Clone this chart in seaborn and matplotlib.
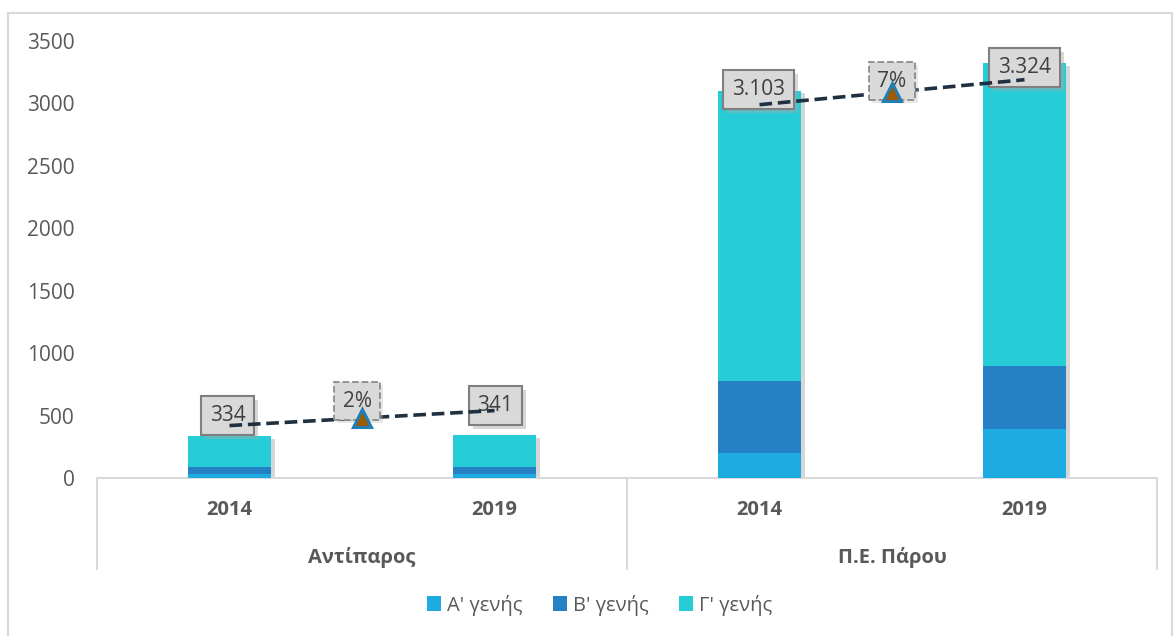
import numpy as np
import pandas as pd
import matplotlib
matplotlib.use("Agg")
import matplotlib.pyplot as plt
import matplotlib.patheffects as pe
from matplotlib.patches import Patch, Rectangle
import seaborn as sns

# ---- data ----
groups = ["Αντίπαρος", "Αντίπαρος", "Π.Ε. Πάρου", "Π.Ε. Πάρου"]
years = ["2014", "2019", "2014", "2019"]
gen_a = [35, 35, 200, 390]
gen_b = [50, 50, 575, 510]
gen_c = [249, 256, 2328, 2424]
totals = [334, 341, 3103, 3324]
total_labels = ["334", "341", "3.103", "3.324"]
trend_start = [420, 2990]
trend_end = [540, 3190]
pct_labels = ["2%", "7%"]
series_names = ["Α' γενής", "Β' γενής", "Γ' γενής"]
colors = ["#1DABE2", "#2581C4", "#26CDD7"]

keys = [f"{g} {y}" for g, y in zip(groups, years)]
df = pd.DataFrame({
    "key": keys,
    "a": gen_a,
    "ab": np.array(gen_a) + np.array(gen_b),
    "abc": np.array(gen_a) + np.array(gen_b) + np.array(gen_c),
})

sns.set_theme(style="white")
plt.rcParams["font.family"] = ["Open Sans", "DejaVu Sans"]
txt_color = "#595959"

fig = plt.figure(figsize=(11.74, 6.36), dpi=100)
W, H = 1174, 636
ax = fig.add_axes([97 / W, 1 - 478 / H, (1157 - 97) / W, (478 - 41) / H])

bw = 0.313
sns.barplot(data=df, x="key", y="abc", order=keys, color=colors[2], width=bw,
            saturation=1, ax=ax, errorbar=None, zorder=2, linewidth=0)
n0 = len(ax.patches)
for p in ax.patches[:n0]:
    p.set_path_effects([pe.SimplePatchShadow(offset=(3, -2), shadow_rgbFace="#000000", alpha=0.16), pe.Normal()])
sns.barplot(data=df, x="key", y="ab", order=keys, color=colors[1], width=bw,
            saturation=1, ax=ax, errorbar=None, zorder=3, linewidth=0)
sns.barplot(data=df, x="key", y="a", order=keys, color=colors[0], width=bw,
            saturation=1, ax=ax, errorbar=None, zorder=4, linewidth=0)

ax.set_xlim(-0.5, 3.5)
ax.set_ylim(0, 3500)
ax.set_yticks(np.arange(0, 3501, 500))
ax.set_yticklabels([str(v) for v in range(0, 3501, 500)], fontsize=15, color=txt_color)
ax.tick_params(axis="y", length=0, pad=16)
ax.set_xticks(range(4))
ax.set_xticklabels(years, fontsize=14.5, fontweight="bold", color=txt_color)
ax.tick_params(axis="x", length=0, pad=15.5)
ax.set_xlabel("")
ax.set_ylabel("")
for s in ["left", "right", "top"]:
    ax.spines[s].set_visible(False)
ax.spines["bottom"].set_color("#d9d9d9")
ax.spines["bottom"].set_linewidth(1.5)

# group labels and separators
for name, xc in [("Αντίπαρος", 0.5), ("Π.Ε. Πάρου", 2.5)]:
    ax.text(xc, -79 / 437, name, transform=ax.get_xaxis_transform(), ha="center",
            va="center", fontsize=14.5, fontweight="bold", color=txt_color)
for xf in [0, 0.5, 1.0]:
    ax.plot([xf, xf], [0, -91 / 437], transform=ax.transAxes, color="#d9d9d9",
            lw=1.5, clip_on=False)

# trend lines and labels
box = dict(boxstyle="square,pad=0.42", facecolor="#d9d9d9", edgecolor="#7f7f7f", lw=1.5)
shadow_box = dict(boxstyle="square,pad=0.42", facecolor="#a8a8a8", edgecolor="none", alpha=0.45)
label_offsets = [(-2, 10), (1, 5), (-1, 15), (0, 12)]
pct_offsets = [(-5, 17), (0, 11)]
for i in range(2):
    x0, x1 = 2 * i, 2 * i + 1
    ys = [trend_start[i], trend_end[i]]
    ax.plot([x0, x1], ys, ls=(0, (3.5, 1.6)), color="#1f3040", lw=2.6, zorder=6)
    xm, ym = (x0 + x1) / 2, (ys[0] + ys[1]) / 2
    dx, dy = pct_offsets[i]
    ax.annotate(pct_labels[i], (xm, ym), xytext=(dx + 3, dy - 3), textcoords="offset pixels",
                ha="center", va="center", fontsize=15, color=(0, 0, 0, 0), zorder=6.5,
                bbox=dict(boxstyle="square,pad=0.42", facecolor="#bdbdbd", edgecolor="none", alpha=0.35))
    ax.annotate(pct_labels[i], (xm, ym), xytext=(dx, dy), textcoords="offset pixels",
                ha="center", va="center", fontsize=15, color="#404040", zorder=7,
                bbox=dict(boxstyle="square,pad=0.42", facecolor="#d9d9d9",
                          edgecolor="#8c8c8c", lw=1.3, ls="--"))
    ax.plot([xm], [ym], marker="^", ms=13, mfc="#9E5A00", mec="#1F7FB5", mew=2.2, zorder=8)
    for j, xx in enumerate([x0, x1]):
        k = 2 * i + j
        dx, dy = label_offsets[k]
        ax.annotate(total_labels[k], (xx, ys[j]), xytext=(dx + 4, dy - 4),
                    textcoords="offset pixels", ha="center", va="center", fontsize=15,
                    color=(0, 0, 0, 0), zorder=5, bbox=shadow_box)
        ax.annotate(total_labels[k], (xx, ys[j]), xytext=(dx, dy),
                    textcoords="offset pixels", ha="center", va="center", fontsize=15,
                    color="#404040", zorder=5.5, bbox=box)

# legend
handles = [Patch(facecolor=c, edgecolor="none", label=n) for c, n in zip(colors, series_names)]
fig.legend(handles=handles, loc="center", bbox_to_anchor=(0.5 + 13 / W, 1 - 605 / H), ncol=3,
           frameon=False, fontsize=14.5, labelcolor=txt_color, handlelength=0.7,
           handleheight=0.7, handletextpad=0.3, columnspacing=1.5)

# outer frame
fig.patches.append(Rectangle((8 / W, -0.01), (1172 - 8) / W, 1 - 13 / H + 0.01,
                             transform=fig.transFigure, fill=False, edgecolor="#d9d9d9", lw=1.5))

fig.savefig("out.png", dpi=100)
